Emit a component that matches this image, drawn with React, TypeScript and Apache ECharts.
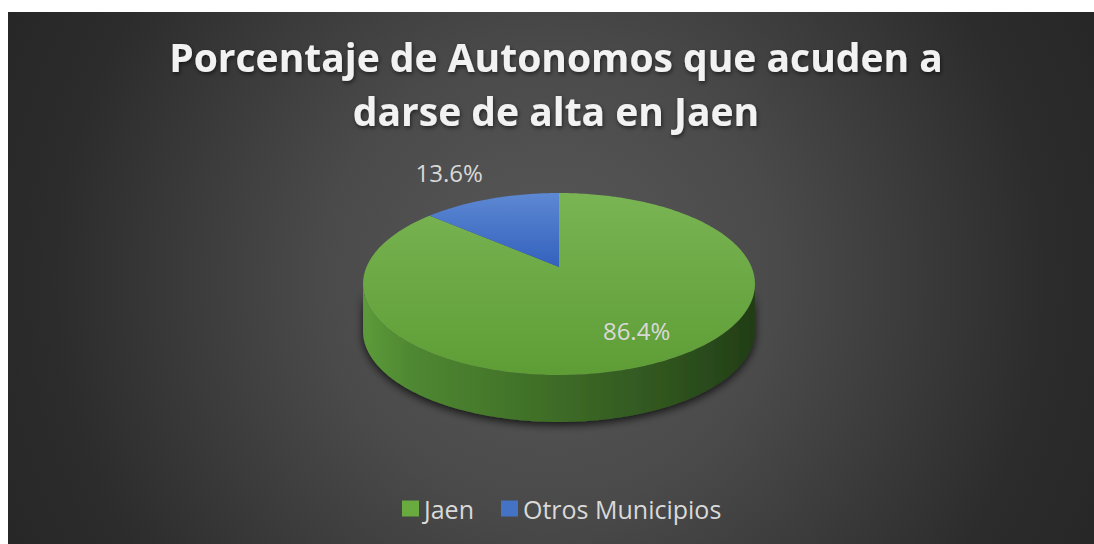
import React, { useEffect, useRef } from "react";
import * as echarts from "echarts";

const categories = ["Jaen", "Otros Municipios"];
const values = [86.4, 13.6];
const titleText = "Porcentaje de Autonomos que acuden a\ndarse de alta en Jaen";

const W = 1086;
const H = 532;
// 3D pie layout (chart-local pixels)
const CX = 551;
const CY = 255;
const RX = 192.5;
const RY = 87.8;
const PERSP = 0.187;
const THICK = 47;

const topColors = [
  ["#79b553", "#5e9d36"],
  ["#5d88d3", "#3361bd"],
];
const legendColors = ["#6aab40", "#4472c4"];
const labelRadius = [0.75, 1.0];
const labelAlign = ["center", "right"];
const labelVAlign = ["middle", "bottom"];
const labelOffset = [
  [9, -5],
  [-8, -14],
];

const total = values.reduce((a, b) => a + b, 0);
const cum: number[] = [];
values.reduce((acc, v, i) => {
  cum[i] = acc;
  return acc + v;
}, 0);

function proj(deg: number, r: number, dy: number): number[] {
  const t = (deg * Math.PI) / 180;
  const u = Math.sin(t) * r;
  const v = -Math.cos(t) * r;
  const w = 1 - PERSP * v;
  return [CX + (RX * u) / w, CY + (RY * v) / w + dy];
}

function arc(a: number, b: number, r: number, dy: number): number[][] {
  const pts: number[][] = [];
  const n = Math.max(2, Math.ceil(Math.abs(b - a)));
  for (let k = 0; k <= n; k++) pts.push(proj(a + ((b - a) * k) / n, r, dy));
  return pts;
}

const visLo = (Math.acos(-PERSP) * 180) / Math.PI;
const visHi = 360 - visLo;

function renderSlice(params: any, api: any) {
  const i = params.seriesIndex;
  const v = api.value(0);
  const a0 = (cum[i] / total) * 360;
  const a1 = a0 + (v / total) * 360;
  const children: any[] = [];

  const lo = Math.max(a0, visLo);
  const hi = Math.min(a1, visHi);
  if (hi > lo) {
    const wallPts = arc(lo, hi, 1, 0).concat(arc(hi, lo, 1, THICK));
    children.push({
      type: "polygon",
      z2: 0,
      shape: { points: wallPts },
      style: {
        fill: new echarts.graphic.LinearGradient(0, 0, 1, 0, [
          { offset: 0, color: "#5c9b3b" },
          { offset: 0.12, color: "#4f8831" },
          { offset: 0.5, color: "#3d6b26" },
          { offset: 0.8, color: "#2e521e" },
          { offset: 1, color: "#223d16" },
        ]),
        shadowBlur: 8,
        shadowOffsetY: 3,
        shadowColor: "rgba(0,0,0,0.75)",
      },
    });
  }

  const topPts = [[CX, CY]].concat(arc(a0, a1, 1, 0));
  children.push({
    type: "polygon",
    z2: 10,
    shape: { points: topPts },
    style: {
      fill: new echarts.graphic.LinearGradient(0, 0, 0, 1, [
        { offset: 0, color: topColors[i][0] },
        { offset: 1, color: topColors[i][1] },
      ]),
    },
  });

  const mid = (a0 + a1) / 2;
  const lp = proj(mid, labelRadius[i], 0);
  children.push({
    type: "text",
    z2: 20,
    x: lp[0] + labelOffset[i][0],
    y: lp[1] + labelOffset[i][1],
    style: {
      text: ((v / total) * 100).toFixed(1) + "%",
      fill: "#d9d9d9",
      fontSize: 24,
      fontFamily: "'Open Sans', sans-serif",
      align: labelAlign[i],
      verticalAlign: labelVAlign[i],
    },
  });

  return { type: "group", children };
}

export default function App() {
  const ref = useRef<HTMLDivElement>(null);
  useEffect(() => {
    if (!ref.current) return;
    const chart = echarts.init(ref.current, null, { renderer: "svg" });
    chart.setOption({
      animation: false,
      graphic: {
        elements: [
          {
            type: "rect",
            left: 0,
            top: 0,
            z: -10,
            silent: true,
            shape: { width: W, height: H },
            style: {
              fill: new echarts.graphic.RadialGradient(
                542,
                268,
                620,
                [
                  { offset: 0, color: "#595959" },
                  { offset: 0.37, color: "#4a4a4a" },
                  { offset: 0.8, color: "#2c2c2c" },
                  { offset: 1, color: "#262626" },
                ],
                true
              ),
            },
          },
        ],
      },
      title: {
        text: titleText,
        left: 548,
        textAlign: "center",
        top: 17,
        padding: 0,
        textStyle: {
          color: "#f2f2f2",
          fontSize: 39,
          fontWeight: "bold",
          fontFamily: "'Open Sans', sans-serif",
          lineHeight: 54,
          textShadowColor: "rgba(0,0,0,0.55)",
          textShadowBlur: 4,
          textShadowOffsetX: 1,
          textShadowOffsetY: 2,
        },
      },
      legend: {
        data: categories,
        left: 389,
        top: 479,
        icon: "rect",
        itemWidth: 17,
        itemHeight: 16,
        itemGap: 27,
        textStyle: {
          color: "#d9d9d9",
          fontSize: 25,
          fontFamily: "'Open Sans', sans-serif",
        },
      },
      series: categories.map((name, i) => ({
        type: "custom",
        name,
        coordinateSystem: "none",
        silent: true,
        itemStyle: { color: legendColors[i] },
        renderItem: renderSlice,
        data: [values[i]],
      })),
    });
    return () => chart.dispose();
  }, []);
  return (
    <div
      ref={ref}
      style={{ position: "absolute", left: 8, top: 12, width: W, height: H }}
    />
  );
}
